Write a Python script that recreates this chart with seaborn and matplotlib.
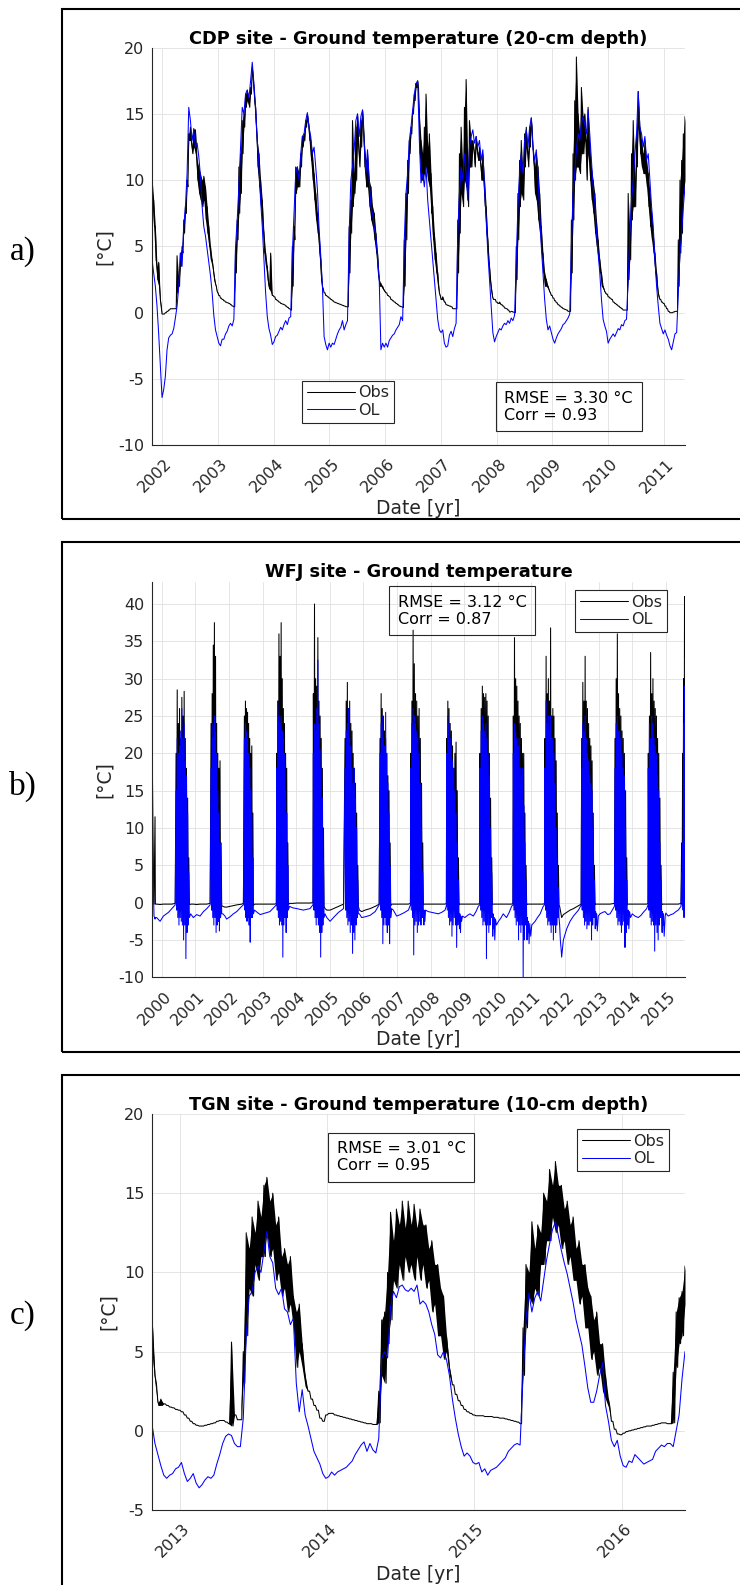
import numpy as np
import matplotlib
matplotlib.use("Agg")
import matplotlib.pyplot as plt
import matplotlib.transforms as mtransforms
from matplotlib.patches import Rectangle
import seaborn as sns

# ======================= DATA =======================
# ---- (a) CDP site, regular time grid (decimal years) ----
cdp_t0 = 2001.814
cdp_dt = 0.03
cdp_ol = [
    4.0, 3.0, 2.0, 0.5, -1.6, -4.0, -6.4, -5.8, -4.8, -2.8,
    -1.9, -1.7, -1.6, -1.2, -0.4, 0.5, 2.0, 4.5, 3.5, 6.5,
    8.0, 10.5, 15.5, 14.5, 13.0, 13.8, 12.5, 12.8, 11.8, 10.3,
    8.0, 6.5, 5.8, 4.8, 3.8, 2.8, 1.5, -0.2, -1.3, -1.8,
    -2.3, -2.5, -2.0, -2.0, -1.6, -1.4, -1.0, -0.8, -1.0, -0.5,
    5.0, 7.0, 9.5, 12.5, 15.5, 15.0, 16.5, 16.8, 16.2, 17.5,
    18.9, 17.3, 15.5, 13.0, 11.0, 8.5, 6.5, 4.0, 1.5, -0.3,
    -1.2, -1.7, -2.4, -2.2, -1.8, -1.7, -1.4, -1.1, -1.3, -0.9,
    -0.6, -0.9, -0.4, -0.3, 4.5, 7.5, 10.5, 11.0, 10.0, 12.0,
    13.3, 13.5, 14.5, 15.1, 14.0, 13.3, 12.0, 12.5, 11.0, 9.3,
    6.3, 4.3, 2.0, -1.8, -2.4, -2.8, -2.3, -2.6, -2.3, -2.4,
    -2.0, -1.6, -1.3, -1.1, -0.6, -1.3, -0.9, -0.6, 6.0, 10.0,
    11.0, 12.3, 14.5, 15.0, 13.3, 14.8, 15.3, 12.8, 10.5, 12.3,
    10.0, 8.0, 7.5, 6.5, 5.8, 4.2, 2.5, -2.8, -2.3, -2.6,
    -2.3, -2.6, -2.1, -1.9, -1.7, -1.6, -1.3, -1.1, -0.9, -0.3,
    -0.6, 5.5, 9.0, 10.5, 13.0, 14.0, 15.3, 16.5, 17.3, 17.5,
    13.0, 9.8, 10.5, 9.5, 11.0, 8.5, 7.0, 5.5, 4.0, 2.5,
    1.0, -0.5, -1.3, -1.5, -1.3, -2.3, -2.6, -2.5, -1.7, -1.4,
    -1.8, -1.2, -0.8, 6.0, 9.0, 11.0, 10.0, 12.0, 10.5, 8.5,
    12.5, 13.3, 13.8, 12.8, 13.3, 12.5, 13.0, 11.5, 12.3, 9.5,
    7.0, 4.5, 2.5, 0.5, -1.5, -2.2, -1.8, -1.5, -1.2, -1.3,
    -1.0, -0.8, -0.9, -0.6, -0.8, -0.4, -0.6, -0.2, 4.0, 8.0,
    10.5, 12.0, 10.5, 13.0, 13.8, 12.5, 14.0, 14.7, 12.5, 11.5,
    12.3, 10.5, 7.5, 5.0, 3.0, 1.0, -0.5, -1.3, -1.0, -1.5,
    -2.0, -2.3, -1.9, -1.6, -1.4, -1.2, -0.9, -0.8, -0.6, -0.4,
    -0.1, 5.0, 9.0, 10.5, 12.3, 13.5, 13.0, 14.3, 14.8, 14.2,
    13.5, 15.3, 13.5, 11.5, 9.5, 8.5, 6.0, 4.5, 3.0, 1.0,
    -0.5, -1.0, -1.4, -2.3, -2.0, -1.8, -1.6, -1.8, -1.5, -1.2,
    -1.3, -0.9, -1.0, -0.6, -0.5, 2.5, 6.0, 8.5, 10.0, 12.0,
    13.5, 16.7, 14.0, 13.5, 12.5, 13.3, 11.5, 12.0, 10.0, 8.0,
    6.5, 4.0, 2.0, 0.5, -0.8, -1.2, -1.6, -1.3, -1.7, -2.0,
    -2.5, -2.8, -2.2, -1.6, -1.5, 1.5, 4.5, 6.0, 8.0, 9.5,
]
# observed daily high / low on the same grid
cdp_obs_hi = [
    10.2, 8.5, 6.5, 3.5, 3.8, 1.0, -0.1, -0.1, 0.0, 0.1,
    0.2, 0.3, 0.3, 0.3, 0.3, 4.3, 2.5, 4.5, 5.0, 7.0,
    8.0, 10.0, 13.5, 14.0, 12.5, 13.9, 13.8, 11.5, 11.0, 10.5,
    10.0, 10.3, 9.5, 8.0, 6.5, 5.0, 4.0, 3.0, 2.2, 1.6,
    1.3, 1.1, 1.0, 0.9, 0.8, 0.75, 0.7, 0.6, 0.5, 0.45,
    5.0, 7.0, 11.0, 12.0, 14.5, 15.0, 16.5, 16.8, 16.2, 17.0,
    18.5, 17.0, 15.5, 13.0, 12.0, 10.0, 8.5, 6.0, 4.5, 3.5,
    2.0, 4.5, 1.3, 1.2, 1.0, 0.9, 0.8, 0.7, 0.65, 0.6,
    0.5, 0.4, 0.3, 0.2, 5.0, 6.5, 11.0, 11.0, 10.5, 12.0,
    13.3, 13.5, 14.5, 15.0, 14.0, 13.0, 12.0, 10.5, 9.0, 7.5,
    6.0, 4.0, 2.0, 1.5, 1.3, 1.2, 1.1, 1.0, 0.9, 0.8,
    0.75, 0.7, 0.65, 0.6, 0.55, 0.5, 0.45, 0.45, 6.5, 8.5,
    14.5, 10.5, 14.0, 15.0, 12.0, 14.5, 15.3, 13.0, 11.5, 12.0,
    10.0, 9.5, 8.0, 7.5, 6.0, 4.5, 2.5, 2.2, 2.0, 1.7,
    1.5, 1.3, 1.2, 1.0, 0.9, 0.8, 0.7, 0.6, 0.5, 0.45,
    0.4, 5.5, 9.0, 11.5, 13.0, 14.0, 15.3, 16.5, 17.3, 17.5,
    15.0, 13.0, 12.0, 14.0, 16.5, 12.5, 13.5, 10.5, 8.0, 6.0,
    4.5, 3.0, 1.5, 1.0, 1.2, 0.8, 0.6, 0.55, 0.5, 0.45,
    0.3, 0.3, 0.3, 7.0, 12.0, 14.0, 11.0, 15.5, 17.6, 11.0,
    14.5, 13.0, 13.0, 12.0, 13.3, 12.0, 12.5, 11.0, 12.0, 10.0,
    8.0, 5.5, 3.5, 2.0, 1.1, 1.0, 0.8, 0.7, 0.8, 0.6,
    0.5, 0.35, 0.3, 0.2, 0.05, 0.1, 0.05, 0.0, 5.0, 9.0,
    11.5, 13.0, 10.5, 13.5, 14.0, 12.0, 14.0, 14.7, 12.5, 11.0,
    12.0, 11.0, 9.0, 6.5, 4.5, 3.0, 2.5, 2.0, 1.6, 1.3,
    1.1, 0.9, 0.75, 0.6, 0.5, 0.4, 0.3, 0.25, 0.2, 0.1,
    0.1, 7.0, 12.0, 16.0, 19.3, 15.0, 13.5, 17.0, 14.8, 15.0,
    13.0, 15.5, 12.5, 11.0, 10.0, 9.0, 7.0, 5.5, 4.0, 3.0,
    2.0, 1.6, 1.4, 1.2, 1.1, 1.0, 0.8, 0.7, 0.6, 0.5,
    0.4, 0.3, 0.2, 0.2, 0.2, 9.0, 6.0, 12.0, 14.5, 10.0,
    13.5, 16.7, 14.0, 13.0, 12.0, 13.0, 11.5, 10.5, 9.0, 7.5,
    6.0, 4.5, 3.0, 1.5, 1.0, 0.8, 0.7, 0.5, 0.3, 0.1,
    0.0, 0.0, 0.05, 0.1, 0.1, 5.5, 10.0, 11.5, 13.5, 14.8,
]
cdp_obs_lo = [
    8.5, 6.5, 4.0, 2.5, 2.0, 0.5, -0.1, -0.1, 0.0, 0.1,
    0.2, 0.3, 0.3, 0.3, 0.3, 1.5, 2.0, 3.5, 4.5, 6.0,
    7.5, 9.5, 13.0, 13.0, 12.0, 12.5, 12.0, 10.0, 9.0, 8.5,
    8.0, 8.5, 7.0, 6.0, 5.0, 4.0, 3.5, 2.5, 2.0, 1.5,
    1.3, 1.1, 1.0, 0.9, 0.8, 0.75, 0.7, 0.6, 0.5, 0.45,
    3.0, 5.5, 7.5, 9.0, 12.0, 14.0, 15.5, 16.0, 15.5, 16.5,
    18.0, 16.0, 14.0, 11.0, 9.5, 8.0, 6.5, 4.5, 3.5, 2.5,
    1.8, 1.6, 1.3, 1.2, 1.0, 0.9, 0.8, 0.7, 0.65, 0.6,
    0.5, 0.4, 0.3, 0.2, 2.0, 5.5, 9.0, 9.5, 9.5, 11.0,
    12.5, 13.0, 14.0, 14.5, 13.0, 11.5, 10.0, 8.5, 7.0, 6.0,
    4.5, 2.5, 1.8, 1.5, 1.3, 1.2, 1.1, 1.0, 0.9, 0.8,
    0.75, 0.7, 0.65, 0.6, 0.55, 0.5, 0.45, 0.45, 3.0, 6.0,
    8.0, 9.0, 10.0, 13.0, 11.0, 12.5, 14.5, 11.0, 9.5, 9.5,
    8.0, 7.0, 6.5, 5.5, 4.5, 3.0, 2.0, 2.0, 1.8, 1.6,
    1.5, 1.3, 1.2, 1.0, 0.9, 0.8, 0.7, 0.6, 0.5, 0.45,
    0.4, 2.0, 5.5, 9.0, 12.0, 13.5, 15.0, 16.0, 17.0, 17.0,
    12.0, 10.0, 10.0, 10.5, 11.0, 10.0, 9.5, 7.5, 5.5, 4.0,
    3.0, 2.0, 1.3, 1.0, 1.0, 0.8, 0.6, 0.55, 0.5, 0.45,
    0.3, 0.3, 0.3, 3.0, 6.0, 9.0, 8.0, 10.0, 9.5, 8.0,
    11.0, 11.0, 12.5, 11.0, 12.5, 11.5, 11.5, 10.0, 10.0, 8.0,
    6.0, 4.0, 2.5, 1.5, 1.0, 1.0, 0.8, 0.7, 0.7, 0.6,
    0.5, 0.35, 0.3, 0.2, 0.05, 0.1, 0.05, 0.0, 2.5, 5.5,
    8.0, 9.0, 8.5, 11.0, 12.5, 11.0, 12.5, 14.0, 11.5, 9.0,
    8.5, 7.0, 6.0, 4.5, 3.0, 2.0, 2.0, 1.8, 1.5, 1.3,
    1.1, 0.9, 0.75, 0.6, 0.5, 0.4, 0.3, 0.25, 0.2, 0.1,
    0.1, 3.0, 7.0, 10.0, 11.0, 11.0, 10.5, 12.0, 12.0, 13.0,
    10.0, 12.0, 10.0, 8.5, 7.5, 6.0, 5.0, 4.0, 3.0, 2.0,
    1.8, 1.5, 1.4, 1.2, 1.1, 1.0, 0.8, 0.7, 0.6, 0.5,
    0.4, 0.3, 0.2, 0.2, 0.2, 2.5, 4.0, 7.0, 8.0, 8.0,
    11.0, 14.0, 12.0, 11.0, 10.5, 10.5, 9.5, 8.0, 6.5, 5.5,
    4.5, 3.0, 2.0, 1.2, 1.0, 0.8, 0.7, 0.5, 0.3, 0.1,
    0.0, 0.0, 0.05, 0.1, 0.1, 2.0, 4.5, 6.0, 9.0, 10.0,
]
cdp_xticks = [2002, 2003, 2004, 2005, 2006, 2007, 2008, 2009, 2010, 2011]
cdp_yticks = [-10, -5, 0, 5, 10, 15, 20]

# ---- (b) WFJ site: winter knots + snow-free summer oscillations ----
wfj_winter_t = [
    1999.71, 1999.75, 1999.77, 1999.80, 1999.81, 1999.85, 1999.95, 2000.05, 2000.20, 2000.30, 2000.40,
    2000.86, 2000.94, 2001.04, 2001.14, 2001.24, 2001.34, 2001.44,
    2001.82, 2001.88, 2001.93, 2002.03, 2002.13, 2002.23, 2002.38, 2002.43,
    2002.76, 2002.84, 2002.93, 2003.07, 2003.22, 2003.37, 2003.41,
    2003.80, 2003.90, 2004.02, 2004.21, 2004.41, 2004.50,
    2004.86, 2004.91, 2005.01, 2005.11, 2005.26, 2005.41,
    2005.88, 2005.95, 2006.05, 2006.20, 2006.35, 2006.47,
    2006.84, 2006.89, 2006.99, 2007.10, 2007.19, 2007.34, 2007.40,
    2007.80, 2007.81, 2007.83, 2007.85, 2007.93, 2008.03, 2008.13, 2008.23, 2008.33, 2008.43, 2008.47,
    2008.86, 2008.87, 2008.89, 2008.90, 2008.92, 2008.95, 2009.02, 2009.10, 2009.17, 2009.27, 2009.35, 2009.42, 2009.46,
    2009.85, 2009.86, 2009.88, 2009.89, 2009.91, 2009.93, 2009.96, 2010.02, 2010.10, 2010.16, 2010.26, 2010.34, 2010.41, 2010.45,
    2010.87, 2010.88, 2010.90, 2010.91, 2010.93, 2010.95, 2010.98, 2011.01, 2011.11, 2011.18, 2011.26, 2011.35, 2011.39,
    2011.84, 2011.86, 2011.88, 2011.90, 2011.95, 2012.05, 2012.15, 2012.25, 2012.40, 2012.48,
    2012.90, 2012.91, 2012.93, 2012.94, 2012.96, 2012.99, 2013.04, 2013.12, 2013.19, 2013.27, 2013.34, 2013.47,
    2013.87, 2013.88, 2013.90, 2013.92, 2013.95, 2014.00, 2014.08, 2014.18, 2014.26, 2014.33, 2014.43, 2014.47,
    2014.89, 2014.90, 2014.92, 2014.93, 2014.95, 2014.98, 2015.00, 2015.07, 2015.15, 2015.22, 2015.30, 2015.37, 2015.45,
]
wfj_winter_obs = [
    23, 5, -0.2, 11.5, -0.2, -0.2, -0.25, -0.2, -0.2, -0.2, -0.1,
    -0.2, -0.2, -0.25, -0.2, -0.2, -0.2, -0.1,
    -0.5, -0.6, -0.6, -0.5, -0.4, -0.3, -0.2, -0.1,
    -0.2, -0.2, -0.2, -0.2, -0.2, -0.2, -0.1,
    -0.1, -0.1, -0.05, -0.05, -0.05, 0.0,
    -0.8, -1.0, -1.0, -0.8, -0.5, -0.2,
    -1.0, -1.2, -1.0, -0.8, -0.5, -0.2,
    -0.2, -0.2, -0.2, -0.2, -0.2, -0.2, -0.1,
    -0.2, -0.2, -0.2, -0.2, -0.2, -0.2, -0.2, -0.2, -0.2, -0.2, -0.1,
    -0.2, -0.2, -0.2, -0.2, -0.2, -0.2, -0.2, -0.2, -0.2, -0.2, -0.2, -0.2, -0.1,
    -0.2, -0.2, -0.2, -0.2, -0.2, -0.2, -0.2, -0.2, -0.2, -0.2, -0.2, -0.2, -0.2, -0.1,
    -0.2, -0.2, -0.2, -0.2, -0.2, -0.2, -0.2, -0.2, -0.2, -0.2, -0.2, -0.2, -0.1,
    -0.5, -1.0, -1.5, -2.0, -1.6, -1.3, -1.0, -0.8, -0.4, -0.2,
    -0.2, -0.2, -0.2, -0.2, -0.2, -0.2, -0.2, -0.2, -0.2, -0.2, -0.2, -0.1,
    -0.2, -0.2, -0.2, -0.2, -0.2, -0.2, -0.2, -0.2, -0.2, -0.2, -0.2, -0.1,
    -0.2, -0.2, -0.2, -0.2, -0.2, -0.2, -0.2, -0.2, -0.2, -0.2, -0.2, -0.2, -0.1,
]
wfj_winter_ol = [
    12, 2, -1.8, -2.2, -2.0, -2.0, -2.5, -1.8, -1.3, -0.8, -0.3,
    -1.5, -2.0, -1.6, -1.8, -1.2, -0.8, -0.3,
    -1.5, -1.8, -2.2, -1.9, -1.5, -1.2, -0.5, -0.3,
    -1.0, -1.3, -1.6, -1.4, -1.2, -0.5, -0.3,
    -0.5, -0.7, -0.8, -1.0, -0.8, -0.3,
    -1.5, -2.0, -2.5, -2.0, -1.3, -0.8,
    -1.5, -2.0, -1.9, -1.7, -1.2, -0.3,
    -0.8, -1.0, -1.8, -1.6, -1.4, -1.0, -0.3,
    -3.0, -1.0, -2.5, -1.0, -1.2, -1.3, -1.4, -1.5, -1.3, -1.0, -0.4,
    -3.5, -1.5, -4.0, -1.8, -2.5, -1.8, -2.0, -1.7, -1.5, -1.8, -1.2, -0.5, -0.3,
    -4.5, -1.5, -3.5, -2.0, -5.0, -2.2, -3.0, -2.5, -2.0, -1.5, -2.0, -1.3, -0.5, -0.3,
    -5.0, -2.0, -4.0, -2.5, -5.5, -2.8, -4.5, -3.0, -2.5, -2.0, -1.5, -0.5, -0.3,
    -3.0, -5.0, -6.0, -7.3, -5.0, -3.5, -2.5, -1.8, -1.0, -0.3,
    -3.5, -1.2, -3.0, -1.5, -3.8, -1.8, -1.5, -1.3, -1.2, -1.6, -1.5, -0.5,
    -3.0, -1.0, -3.5, -1.2, -2.0, -1.5, -1.8, -2.0, -1.7, -1.3, -0.8, -0.3,
    -4.0, -1.2, -3.0, -1.5, -4.5, -1.8, -1.4, -1.8, -1.6, -1.5, -1.2, -1.0, -0.5,
]
wfj_sum_start = [2000.426, 2001.467, 2002.459, 2003.421, 2004.512, 2005.454, 2006.495, 2007.408,
                 2008.478, 2009.470, 2010.462, 2011.404, 2012.495, 2013.487, 2014.478, 2015.470]
wfj_sum_end = [2000.822, 2001.784, 2002.727, 2003.768, 2004.829, 2005.851, 2006.813, 2007.784,
               2008.845, 2009.837, 2010.858, 2011.820, 2012.892, 2013.854, 2014.875, 2015.570]
wfj_obs_hi = [
    [20, 28.5, 24, 26, 22, 27.5, 25, 28.3, 22, 18, 14, 6],
    [24, 28, 34.5, 37.5, 33, 24, 20, 18, 19, 8],
    [25, 27, 26, 25.5, 24, 22, 20, 21, 12],
    [20, 27, 36, 33, 37.5, 30, 26, 24, 20, 18, 8],
    [28, 40, 30, 29, 35.5, 27, 25, 22, 18, 10],
    [22, 27, 29.5, 26, 27, 24, 23, 20, 18, 16, 12, 5],
    [22, 28, 26, 25, 23, 22, 20, 17, 15, 8],
    [20, 27, 36.5, 32, 28, 27, 25, 26, 22, 16, 8],
    [22, 27, 26, 24, 23, 21, 18, 20, 21.5, 15, 6],
    [20, 26, 29, 28, 27.5, 28, 27, 25, 20, 14, 6],
    [25, 35.5, 30, 29, 27, 25, 24, 22, 20, 20, 12, 5],
    [22, 33, 28, 30, 27, 36.8, 25, 26, 25, 22, 19, 12, 5],
    [22, 29.5, 27, 33, 27, 26, 24, 22, 21, 19, 12, 5],
    [22, 30, 36, 28, 26, 25, 23, 22, 20, 15, 6],
    [20, 25, 33.5, 28, 30, 27, 26, 25, 22, 20, 14, 5],
    [8, 20, 30, 41],
]
wfj_obs_lo = [
    [-0.3, -0.8, -1.0, -1.2, -1.0, -1.5, -1.0, -1.2, -1.0, -0.8, -0.6, -0.3],
    [-0.3, -1.0, -1.2, -1.0, -1.5, -1.0, -1.2, -1.0, -0.8, -0.4],
    [-0.3, -1.0, -1.2, -1.0, -1.5, -1.0, -0.8, -0.6, -0.4],
    [-0.3, -1.0, -1.2, -1.5, -1.0, -1.5, -1.0, -1.2, -0.8, -0.6, -0.3],
    [-0.3, -1.0, -1.5, -1.0, -1.2, -1.5, -1.0, -1.2, -0.8, -0.5],
    [-0.3, -1.0, -1.2, -1.5, -1.0, -1.5, -1.2, -1.0, -1.5, -1.0, -0.8, -0.5],
    [-0.3, -1.0, -1.5, -1.2, -1.0, -1.5, -1.0, -1.2, -0.8, -0.4],
    [-0.3, -1.0, -1.5, -1.2, -1.0, -1.5, -1.0, -1.2, -0.8, -0.6, -0.3],
    [-0.3, -1.0, -1.2, -1.5, -1.0, -1.2, -1.0, -1.5, -1.0, -0.6, -0.3],
    [-0.3, -1.0, -1.2, -1.0, -1.5, -1.2, -1.0, -1.5, -1.0, -0.6, -0.3],
    [-0.3, -1.0, -1.5, -1.2, -1.0, -1.5, -1.2, -1.0, -1.5, -1.0, -0.6, -0.3],
    [-0.3, -1.0, -1.2, -1.5, -1.0, -1.2, -1.5, -1.0, -1.2, -1.0, -0.8, -0.5, -0.3],
    [-0.3, -1.0, -1.2, -1.5, -1.0, -1.2, -1.0, -1.5, -1.2, -1.0, -0.6, -0.3],
    [-0.3, -1.0, -1.2, -1.5, -1.0, -1.2, -1.0, -1.5, -1.0, -0.6, -0.3],
    [-0.3, -1.0, -1.2, -1.5, -1.0, -1.5, -1.2, -1.0, -1.5, -1.0, -0.6, -0.3],
    [-0.3, -0.5, -1.0, 33],
]
wfj_ol_hi = [
    [15, 22, 20, 21, 23, 26, 22, 24, 19, 17, 12, 4],
    [18, 24, 22, 25, 23, 20, 15, 12, 8, 3],
    [22, 24, 23, 22, 20, 18, 15, 12, 6],
    [18, 27, 25, 24, 25, 23, 22, 20, 15, 12, 5],
    [20, 24, 23, 26, 32.5, 24, 20.5, 18, 14, 6],
    [18, 23, 24, 26, 22, 21, 18, 16, 18, 14, 10, 3],
    [20, 24, 25, 22, 21, 25.5, 20, 16, 12, 5],
    [18, 24, 26, 25, 24, 23, 22, 20, 16, 10, 4],
    [20, 25, 24, 22, 21, 19, 18, 15, 12, 8, 3],
    [18, 23, 25, 24, 23, 24, 22, 20, 17, 10, 4],
    [20, 24, 23, 22, 21, 22, 18, 17, 18, 13, 8, 3],
    [18, 27, 24, 25, 23, 25, 22, 22, 20, 16, 10, 6, 2],
    [18, 24, 23, 25, 22, 20, 19, 17, 16, 15, 10, 3],
    [18, 24, 25, 23, 23, 22, 20, 18, 17, 10, 3],
    [18, 24, 22, 25, 24, 22, 21, 20, 17, 15, 8, 3],
    [4, 8, 24, 29],
]
wfj_ol_lo = [
    [-1, -2, -3, -2, -2.5, -3, -5, -3, -7.5, -4, -3, -2],
    [-1, -2, -3, -2, -4, -3, -2.5, -3.8, -2, -1.5],
    [-1, -2, -2.5, -2, -3, -5.3, -2, -2, -1.5],
    [-1, -2, -3, -2.5, -3, -7.3, -3, -2, -4, -2, -1],
    [-1, -2, -3, -2, -3, -4, -7.3, -4, -3, -2],
    [-1, -2, -3, -2.5, -4, -3, -6.8, -4, -5, -3, -2, -1.5],
    [-1, -2, -5.5, -3, -2, -3, -4, -3, -5.5, -2],
    [-1, -2, -7, -3, -2.5, -4, -3, -2.5, -3, -2, -1],
    [-1, -2, -3, -2.5, -4.5, -3, -2, -3, -6, -3, -1.5],
    [-1, -2, -3, -2.5, -3, -7.5, -3, -4, -3, -2, -1.5],
    [-1, -2, -3, -2.5, -5, -3, -4, -3, -10, -5, -3, -2],
    [-1, -2, -3, -2.5, -3, -4, -3, -5, -3, -4, -3, -2, -2],
    [-1, -2, -3, -2.5, -3.5, -3, -3, -2.5, -5, -3, -2, -1.5],
    [-1, -2, -3, -2.5, -3, -4, -3, -2.5, -6, -4, -2],
    [-1, -2, -3, -2.5, -3, -6.5, -3, -4, -5, -3, -2, -1.5],
    [0, -1, -2, 22],
]
wfj_xticks = list(range(2000, 2016))
wfj_yticks = [-10, -5, 0, 5, 10, 15, 20, 25, 30, 35, 40]

# ---- (c) TGN site, regular time grid; Obs given as daily high / low pairs ----
tgn_t0 = 2012.81
tgn_dt = 0.02
tgn_ol = [
    0.4, -0.8, -1.5, -2.2, -2.8, -3.0, -2.8, -2.7, -2.4, -2.3,
    -2.0, -2.7, -3.2, -3.0, -2.7, -3.3, -3.6, -3.4, -3.1, -2.9,
    -3.0, -2.8, -2.1, -1.5, -0.8, -0.35, -0.2, -0.3, -0.8, -1.0,
    -1.0, 0.8, 6.0, 8.5, 8.8, 10.0, 10.4, 10.0, 11.3, 12.6,
    11.0, 10.6, 9.0, 8.6, 9.0, 7.7, 7.5, 6.7, 7.1, 3.0,
    1.2, 2.6, 1.0, 0.3, -0.5, -1.3, -1.7, -2.1, -2.7, -3.0,
    -2.9, -2.6, -2.8, -2.6, -2.5, -2.4, -2.3, -2.1, -1.9, -1.5,
    -1.2, -0.9, -0.7, -1.3, -0.8, -1.2, -1.4, -0.5, 4.6, 5.0,
    4.6, 7.8, 8.8, 8.4, 9.1, 9.2, 8.9, 8.8, 9.0, 8.8,
    9.2, 8.0, 8.2, 8.0, 7.5, 6.7, 6.1, 4.8, 4.6, 5.0,
    4.5, 3.5, 2.0, 0.8, -0.2, -1.0, -1.6, -1.4, -1.6, -2.0,
    -2.1, -2.0, -2.6, -2.4, -2.8, -2.5, -2.4, -2.3, -2.1, -1.9,
    -1.7, -1.3, -1.1, -0.9, -0.8, -0.9, 3.5, 7.0, 8.7, 7.5,
    8.4, 8.8, 8.2, 9.5, 10.8, 11.8, 12.7, 13.2, 12.3, 11.4,
    10.6, 9.9, 9.0, 8.1, 7.0, 6.2, 5.4, 4.1, 2.7, 1.8,
    1.8, 2.5, 3.5, 4.3, 1.6, 0.6, -0.6, -1.0, -0.6, -1.6,
    -2.2, -2.3, -1.9, -2.0, -1.5, -1.7, -1.9, -2.1, -2.0, -1.9,
    -1.8, -1.3, -1.1, -0.9, -1.0, -0.8, -0.8, -1.0, 0.0, 1.0,
    3.3, 5.0,
]
tgn_obs_hi = [
    7.3, 3.5, 1.8, 2.0, 1.7, 1.6, 1.5, 1.45, 1.35, 1.3,
    1.2, 1.0, 0.8, 0.6, 0.45, 0.35, 0.3, 0.3, 0.35, 0.4,
    0.45, 0.5, 0.6, 0.65, 0.65, 0.55, 0.45, 5.6, 1.0, 0.7,
    0.7, 5.0, 12.5, 11.5, 13.5, 12.5, 14.5, 13.5, 15.5, 16.0,
    14.5, 15.0, 13.0, 13.5, 11.0, 11.5, 10.5, 11.0, 8.5, 7.5,
    8.0, 5.5, 3.5, 2.5, 2.0, 1.6, 1.3, 0.8, 0.6, 1.0,
    1.1, 1.1, 1.0, 0.95, 0.9, 0.85, 0.8, 0.75, 0.7, 0.65,
    0.6, 0.55, 0.5, 0.45, 0.45, 0.4, 0.4, 2.5, 7.0, 7.5,
    10.0, 13.8, 12.0, 14.0, 13.0, 14.5, 12.8, 14.5, 13.0, 14.3,
    12.8, 14.0, 13.0, 13.0, 11.5, 12.0, 10.5, 10.5, 9.0, 8.5,
    6.0, 4.0, 2.9, 2.3, 1.9, 1.6, 1.35, 1.2, 1.1, 1.0,
    0.95, 0.95, 0.95, 0.9, 0.9, 0.9, 0.85, 0.85, 0.8, 0.8,
    0.75, 0.7, 0.65, 0.6, 0.55, 0.45, 6.5, 10.5, 10.0, 13.2,
    11.5, 13.0, 12.5, 15.0, 14.5, 16.5, 15.5, 17.0, 15.5, 15.5,
    14.0, 14.5, 13.0, 13.5, 11.5, 12.0, 10.5, 10.5, 9.0, 8.5,
    7.0, 7.5, 5.5, 5.5, 3.5, 2.0, 0.6, 0.1, -0.2, -0.25,
    -0.15, -0.05, 0.0, 0.05, 0.1, 0.15, 0.2, 0.25, 0.3, 0.3,
    0.35, 0.4, 0.45, 0.5, 0.5, 0.45, 0.45, 3.7, 7.5, 8.4,
    8.8, 10.4,
]
tgn_obs_lo = [
    5.0, 3.0, 1.6, 1.6, 1.7, 1.6, 1.5, 1.45, 1.35, 1.3,
    1.2, 1.0, 0.8, 0.6, 0.45, 0.35, 0.3, 0.3, 0.35, 0.4,
    0.45, 0.5, 0.6, 0.65, 0.65, 0.55, 0.45, 0.3, 1.0, 0.7,
    0.7, 3.0, 6.0, 9.0, 8.5, 10.5, 9.5, 11.0, 11.0, 12.5,
    11.0, 11.5, 9.5, 10.0, 8.5, 9.0, 7.5, 8.0, 6.5, 4.0,
    5.0, 4.0, 2.8, 2.5, 2.0, 1.6, 1.3, 0.8, 0.6, 1.0,
    1.1, 1.1, 1.0, 0.95, 0.9, 0.85, 0.8, 0.75, 0.7, 0.65,
    0.6, 0.55, 0.5, 0.45, 0.45, 0.4, 0.4, 0.5, 3.5, 3.0,
    5.5, 7.0, 9.5, 9.0, 10.5, 9.5, 11.0, 10.0, 10.5, 9.5,
    11.0, 9.5, 10.5, 9.0, 9.5, 7.5, 8.0, 6.0, 6.0, 4.5,
    5.0, 3.5, 2.9, 2.3, 1.9, 1.6, 1.35, 1.2, 1.1, 1.0,
    0.95, 0.95, 0.95, 0.9, 0.9, 0.9, 0.85, 0.85, 0.8, 0.8,
    0.75, 0.7, 0.65, 0.6, 0.55, 0.45, 3.5, 6.5, 8.5, 8.0,
    9.0, 8.5, 10.5, 10.5, 12.0, 12.0, 13.5, 12.5, 13.0, 11.5,
    12.0, 10.5, 11.0, 9.5, 9.5, 8.0, 8.5, 6.5, 6.5, 4.5,
    5.0, 3.5, 4.0, 2.5, 2.0, 1.5, 0.6, 0.1, -0.2, -0.25,
    -0.15, -0.05, 0.0, 0.05, 0.1, 0.15, 0.2, 0.25, 0.3, 0.3,
    0.35, 0.4, 0.45, 0.5, 0.5, 0.45, 0.45, 0.5, 4.0, 5.5,
    6.0, 8.0,
]
tgn_xticks = [2013, 2014, 2015, 2016]
tgn_yticks = [-5, 0, 5, 10, 15, 20]

titles = ["CDP site - Ground temperature (20-cm depth)",
          "WFJ site - Ground temperature",
          "TGN site - Ground temperature (10-cm depth)"]
stats = ["RMSE = 3.30 \u00b0C\nCorr = 0.93",
         "RMSE = 3.12 \u00b0C\nCorr = 0.87",
         "RMSE = 3.01 \u00b0C\nCorr = 0.95"]
panel_tags = ["a)", "b)", "c)"]

# ======================= BUILD SERIES =======================
def interleave(t, dt, hi, lo):
    tt = np.empty(2 * len(hi))
    tt[0::2] = t
    tt[1::2] = t + dt / 2
    vv = np.empty(2 * len(hi))
    vv[0::2] = hi
    vv[1::2] = lo
    return tt, vv

cdp_t = cdp_t0 + cdp_dt * np.arange(len(cdp_ol))
cdp_obs_t, cdp_obs_v = interleave(cdp_t, cdp_dt, cdp_obs_hi, cdp_obs_lo)

def wfj_series(hi_list, lo_list, winter_vals):
    t = list(wfj_winter_t)
    v = list(winter_vals)
    for s, e, h, l in zip(wfj_sum_start, wfj_sum_end, hi_list, lo_list):
        ts = np.linspace(s, e, 2 * len(h))
        vals = np.empty(2 * len(h))
        vals[0::2] = h
        vals[1::2] = l
        t.extend(ts)
        v.extend(vals)
    order = np.argsort(t, kind="stable")
    return np.asarray(t)[order], np.asarray(v)[order]

wfj_obs_t, wfj_obs_v = wfj_series(wfj_obs_hi, wfj_obs_lo, wfj_winter_obs)
wfj_ol_t, wfj_ol_v = wfj_series(wfj_ol_hi, wfj_ol_lo, wfj_winter_ol)

tgn_t = tgn_t0 + tgn_dt * np.arange(len(tgn_ol))
tgn_obs_t, tgn_obs_v = interleave(tgn_t, tgn_dt, tgn_obs_hi, tgn_obs_lo)

# ======================= FIGURE =======================
sns.set_theme(style="white")
plt.rcParams["font.family"] = ["DejaVu Sans"]

W, H = 740.0, 1585.0
fig = plt.figure(figsize=(W / 100, H / 100), dpi=100)
fig.patch.set_facecolor("white")

def rect(x0, y0, x1, y1):
    return [x0 / W, 1 - y1 / H, (x1 - x0) / W, (y1 - y0) / H]

ax_a = fig.add_axes(rect(152, 47.7, 685, 445.2))
ax_b = fig.add_axes(rect(152, 581.6, 685, 977.3))
ax_c = fig.add_axes(rect(152, 1114, 685, 1510))

# panel frames
for y0, y1 in [(9.3, 519), (541.7, 1052), (1074.6, 1600)]:
    fig.patches.append(Rectangle((61.5 / W, 1 - y1 / H), (780 - 61.5) / W, (y1 - y0) / H,
                                 transform=fig.transFigure, fill=False,
                                 edgecolor="black", linewidth=1.5))

AX_COL = "#262626"

def draw(ax, t_obs, v_obs, t_ol, v_ol, band=None):
    if band is not None:
        ax.fill_between(band[0], band[1], band[2], color="black", linewidth=0, zorder=1.5)
    sns.lineplot(x=t_obs, y=v_obs, ax=ax, color="black", linewidth=0.75,
                 estimator=None, sort=False)
    l_obs = ax.lines[-1]
    sns.lineplot(x=t_ol, y=v_ol, ax=ax, color="#0000ff", linewidth=0.75,
                 estimator=None, sort=False)
    l_ol = ax.lines[-1]
    l_obs.set_label("Obs")
    l_ol.set_label("OL")

def style(ax, xlim, ylim, xticks, yticks, title, stat, stat_xy, leg_xy, ylab_x, xlab_y):
    ax.set_xlim(*xlim)
    ax.set_ylim(*ylim)
    ax.set_xticks(xticks)
    ax.set_xticklabels([str(v) for v in xticks], rotation=45, ha="right",
                       va="center", rotation_mode="anchor")
    ax.set_yticks(yticks)
    ax.set_yticklabels([str(v) for v in yticks])
    ax.grid(True, color="#e1e1e1", linewidth=0.6)
    ax.set_axisbelow(True)
    for s in ["top", "right"]:
        ax.spines[s].set_visible(False)
    for s in ["left", "bottom"]:
        ax.spines[s].set_color(AX_COL)
        ax.spines[s].set_linewidth(0.8)
    ax.tick_params(direction="in", length=4, width=0.8, color=AX_COL,
                   labelcolor=AX_COL, labelsize=11.5)
    ax.tick_params(axis="x", pad=11.8)
    ax.tick_params(axis="y", pad=5.5)
    off = mtransforms.ScaledTranslation(7.4 / 100, 0, fig.dpi_scale_trans)
    for lab in ax.get_xticklabels():
        lab.set_transform(lab.get_transform() + off)
    ax.set_title(title, fontsize=12.8, fontweight="bold", color="black", pad=3)
    ax.set_xlabel("Date [yr]", fontsize=13.5, color=AX_COL)
    ax.set_ylabel("[\u00b0C]", fontsize=13.5, color=AX_COL)
    ax.xaxis.label.set_va("center")
    ax.yaxis.label.set_va("center")
    ax.xaxis.set_label_coords(0.5, xlab_y)
    ax.yaxis.set_label_coords(ylab_x, 0.5)
    ax.text(stat_xy[0], stat_xy[1], stat, transform=ax.transAxes, ha="center",
            va="center", fontsize=11.5, color="black", multialignment="left",
            linespacing=1.15,
            bbox=dict(boxstyle="square,pad=0.55", facecolor="none",
                      edgecolor=AX_COL, linewidth=0.8))
    leg = ax.legend(loc="upper left", bbox_to_anchor=leg_xy, borderaxespad=0,
                    fontsize=11.5, frameon=True, fancybox=False, framealpha=1,
                    edgecolor=AX_COL, handlelength=3.0, handletextpad=0.2,
                    borderpad=0.3, labelspacing=0.15)
    leg.get_frame().set_linewidth(0.8)

draw(ax_a, cdp_obs_t, cdp_obs_v, cdp_t, cdp_ol, band=(cdp_t, cdp_obs_lo, cdp_obs_hi))
style(ax_a, (2001.814, 2011.384), (-10, 20), cdp_xticks, cdp_yticks, titles[0], stats[0],
      (0.7818, 0.0966), (0.282, 0.1623), -0.090, -0.158)

draw(ax_b, wfj_obs_t, wfj_obs_v, wfj_ol_t, wfj_ol_v)
style(ax_b, (1999.71, 2015.57), (-10, 43), wfj_xticks, wfj_yticks, titles[1], stats[1],
      (0.5822, 0.9262), (0.7936, 0.9788), -0.090, -0.158)

draw(ax_c, tgn_obs_t, tgn_obs_v, tgn_t, tgn_ol, band=(tgn_t, tgn_obs_lo, tgn_obs_hi))
style(ax_c, (2012.81, 2016.43), (-5, 20), tgn_xticks, tgn_yticks, titles[2], stats[2],
      (0.4675, 0.8909), (0.798, 0.9614), -0.082, -0.162)

for tag, yc in zip(panel_tags, [252, 786, 1316]):
    fig.text(23 / W, 1 - yc / H, tag, fontsize=24, family="Liberation Serif",
             ha="center", va="center", color="black")

fig.savefig("out.png", dpi=100, facecolor="white")
